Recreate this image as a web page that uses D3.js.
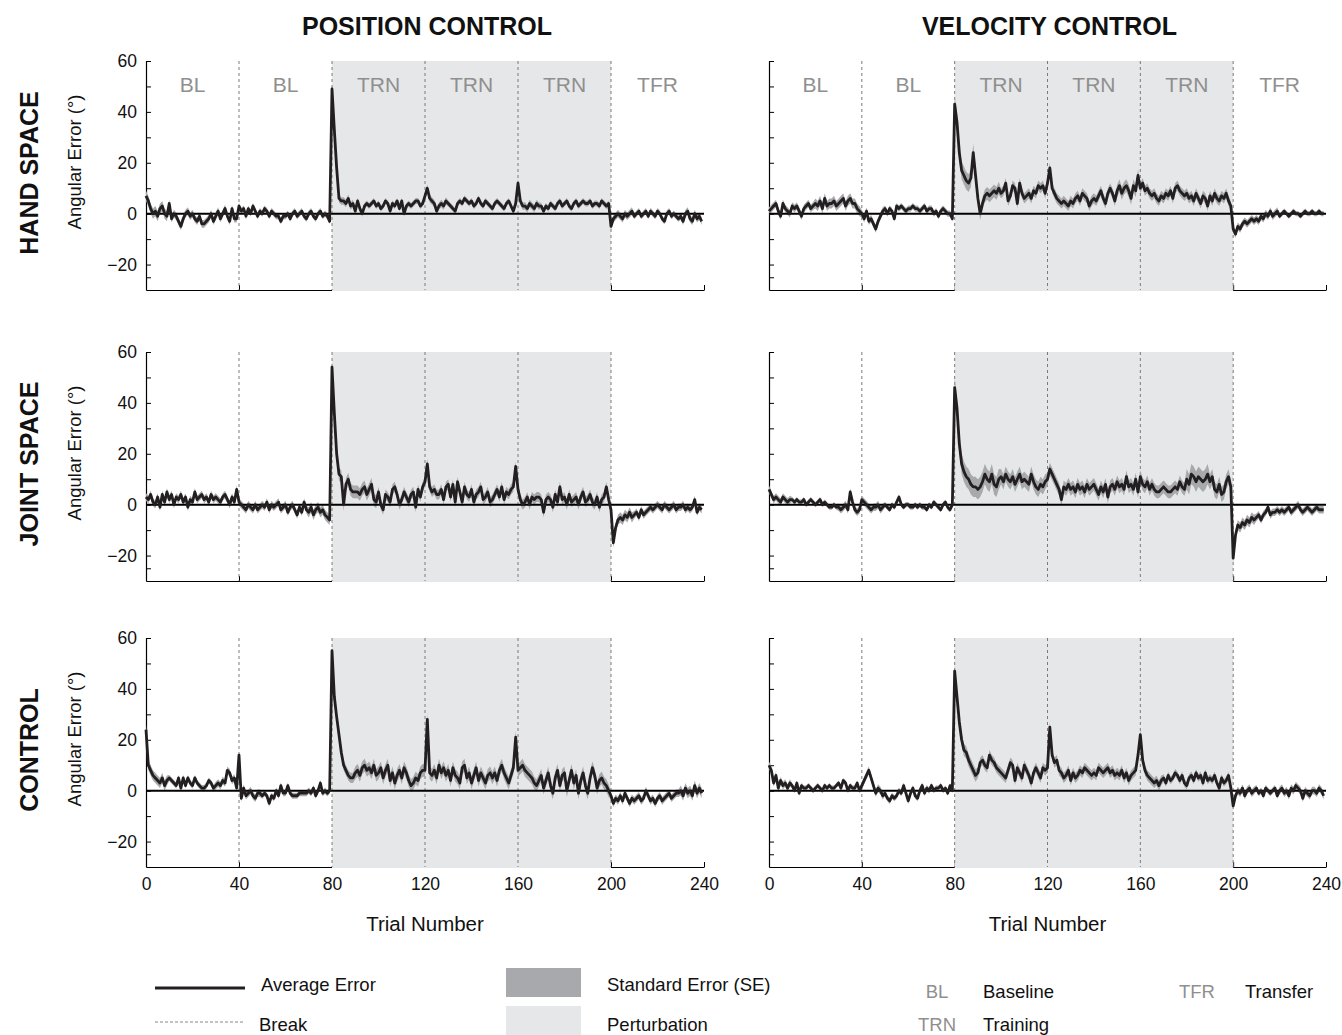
<!DOCTYPE html>
<html>
<head>
<meta charset="utf-8">
<script src="https://cdn.jsdelivr.net/npm/d3@7"></script>
<style>
  body { margin: 0; background: #fff; }
  svg { font-family: "Liberation Sans", Arial, sans-serif; }
</style>
</head>
<body>
<svg id="chart" width="1342" height="1035"></svg>
<script>
// ---- data (mean angular error per trial, degrees) ----
var posHand = [
  7,5,2,0,1,-1,2,3,0,-1, 4,-2,0,-1,-3,-5,-2,0,1,-1, 0,-2,-3,-1,-4,-4,-3,-2,0,-3, -1,1,-2,0,2,-1,-3,2,-2,-2,
  3,1,2,-1,2,0,3,1,-1,1, 0,2,1,-1,1,0,-1,-1,-3,-1, -1,0,-2,0,1,-1,0,1,-1,-2, 0,1,-1,-2,0,1,-1,0,-1,-3,
  49,33,18,6,5,5,4,6,3,4, 1,5,2,0,3,4,3,4,5,3, 4,2,3,5,4,1,4,3,5,2, 5,0,3,4,3,4,5,5,3,4,
  7,10,6,5,4,1,3,4,3,5, 4,3,2,1,4,5,4,6,5,4, 5,3,4,6,4,3,5,4,3,2, 4,5,4,3,2,4,5,3,1,4,
  12,5,3,3,2,4,3,2,4,3, 3,1,3,2,4,3,2,4,5,3, 4,5,3,2,4,5,3,4,5,4, 4,5,3,4,4,3,5,4,3,4,
  -5,-2,-1,0,-1,-2,0,-1,0,1, -1,0,1,-1,0,1,-1,1,0,-1, 1,0,-2,-3,0,1,-1,0,-1,-2, -1,-3,0,1,-2,-3,0,-2,-1,-3
];
var velHand = [
  1,2,3,4,1,-1,4,2,1,0, 3,2,3,1,-1,2,3,4,2,3, 4,3,5,2,6,3,4,4,5,3, 4,5,6,3,5,6,4,4,2,1,
  0,-2,1,-3,-2,-4,-6,-3,-1,1, 2,0,2,1,-2,3,2,3,2,1, 2,2,3,2,2,1,2,3,1,2, 2,0,1,-1,1,2,1,0,0,-2,
  43,36,24,17,15,13,12,14,24,15, 6,0,4,7,8,7,8,9,8,10, 8,9,12,5,7,11,10,4,12,8, 6,7,8,6,9,8,11,10,11,8,
  12,18,10,8,6,5,4,5,4,3, 5,4,6,7,5,8,7,6,3,5, 6,5,7,9,6,4,8,10,8,5, 9,11,8,10,11,9,6,11,9,15,
  10,12,9,10,8,7,8,6,5,7, 6,8,7,9,6,10,11,9,8,7, 8,6,7,5,8,6,4,7,6,3, 7,5,8,6,5,7,6,8,5,3,
  -6,-8,-5,-6,-4,-3,-4,-3,-2,-3, -2,-3,-1,-2,0,-1,1,-1,0,1, -1,0,1,0,-1,0,1,0,0,-1, 0,1,0,0,1,0,0,1,0,0
];
var posJoint = [
  3,2,4,1,0,3,-1,4,1,5, 2,4,0,3,2,4,1,3,-1,2, 1,5,2,3,4,2,3,1,4,2, 3,2,1,3,4,2,0,3,1,6,
  1,0,-1,-2,0,-1,-2,0,-2,-1, 0,-1,1,-2,0,-1,0,1,-2,-1, 0,-3,-1,0,-2,-4,-1,-3,1,-2, -3,-1,-4,-2,-1,-3,-2,-4,-5,-6,
  54,36,20,12,11,0,8,10,6,5, 5,5,4,6,7,4,6,8,2,1, 5,0,-2,4,3,1,6,7,4,0, 2,5,3,1,4,5,-1,6,3,7,
  9,16,7,5,6,4,4,6,2,7, 8,3,8,1,9,5,1,7,4,3, 6,1,4,5,7,2,3,5,1,2, 4,6,3,7,2,5,4,6,7,15,
  6,2,0,1,3,0,3,2,3,3, 2,-3,2,3,2,-1,4,1,7,2, 3,0,4,1,2,3,0,3,5,1, 2,4,1,0,3,-1,2,3,7,2,
  -2,-15,-9,-6,-5,-6,-4,-5,-3,-5, -4,-3,-5,-2,-4,-3,-2,-1,-2,-1, 0,-1,-2,0,-1,-2,-1,0,-2,-1, -1,0,-2,-1,-2,-1,2,-3,-1,-2
];
var velJoint = [
  6,4,2,3,2,1,3,2,1,2, 2,1,2,1,1,2,0,1,2,1, 0,1,2,0,1,0,-1,-1,0,-1, -1,-2,-1,0,-2,5,1,-2,-3,-2,
  2,1,0,-1,-2,-1,-1,0,-2,-1, 0,-1,-2,0,-1,1,3,0,-1,0, 0,-1,-1,0,-1,0,-1,-1,-2,0, -1,1,0,-1,-2,0,1,-1,-2,0,
  46,38,24,16,13,11,10,8,7,7, 6,7,9,12,10,9,12,8,7,10, 11,9,12,10,9,11,8,10,12,9, 10,9,8,12,9,7,6,8,7,9,
  10,14,12,10,8,6,2,7,6,8, 6,7,5,8,6,7,5,8,6,7, 8,6,4,7,5,8,3,7,8,6, 9,7,8,6,11,7,8,6,10,5,
  11,8,7,9,6,8,6,5,5,6, 7,6,5,5,6,7,6,9,7,6, 10,8,12,11,9,11,10,9,10,12, 9,11,6,5,8,4,5,9,11,7,
  -21,-12,-8,-9,-7,-8,-6,-7,-5,-6, -5,-4,-6,-4,-3,-1,-4,-3,-3,-2, -3,-2,-3,-2,-1,-3,-2,-1,0,-2, -3,-2,-1,-2,-3,-2,-1,-2,-2,-2
];
var posCtrl = [
  24,10,8,6,5,4,3,5,2,4, 5,4,3,2,5,1,5,2,5,3, 2,5,3,2,1,1,2,4,3,1, 2,3,2,4,3,8,7,4,5,1,
  14,-3,1,-2,-1,0,-2,-3,-1,-1, -2,-1,-2,-5,-2,-3,0,-2,2,-1, -1,2,-1,-2,-2,-2,-1,-1,-1,-1, 0,-1,1,-2,0,3,-1,0,-1,0,
  55,37,29,22,15,10,8,6,5,5, 7,8,6,9,10,8,9,7,10,6, 7,9,5,8,10,4,7,3,6,8, 5,9,7,4,2,3,5,4,7,8,
  8,28,7,6,8,5,10,7,9,6, 8,4,9,6,5,3,9,10,5,7, 3,6,9,4,7,5,3,6,7,5, 7,4,8,10,7,5,3,6,9,21,
  8,9,10,8,7,6,5,3,2,4, 6,1,4,7,2,-1,5,8,2,6, 7,0,4,8,3,6,-1,4,7,2, -1,5,9,6,1,4,5,3,2,0,
  -2,-5,-3,-4,-2,-4,-1,-3,-5,-3, -4,-3,-2,-4,-3,0,-2,-4,-3,-5, -3,-2,-4,-3,-2,-1,-3,-2,-1,-1, 0,-2,1,-1,0,-2,2,-1,1,-1
];
var velCtrl = [
  10,8,3,6,1,4,2,3,1,3, 2,0,3,-1,2,1,1,2,1,0, 1,2,1,0,2,1,2,1,1,2, 3,1,4,3,0,2,1,1,3,0,
  2,4,6,8,5,2,-1,1,0,-2, -1,-3,-4,-2,-3,-2,0,-1,2,-1, -4,-1,1,-2,-3,0,2,-1,1,0, 2,0,1,1,2,0,1,-1,2,0,
  47,37,27,20,16,15,12,10,8,6, 7,11,12,10,9,14,12,11,9,8, 7,6,5,8,11,10,4,9,7,5, 10,8,6,3,7,9,7,5,9,8,
  9,25,14,11,12,8,7,5,6,8, 4,7,5,6,8,7,9,8,7,6, 7,6,9,8,7,8,9,7,8,6, 7,6,8,5,7,4,6,7,8,14,
  22,12,8,6,5,4,3,4,2,4, 5,3,6,4,5,7,6,4,6,3, 2,5,6,4,7,5,6,3,7,4, 5,4,6,3,1,5,3,4,6,1,
  -6,-2,0,-1,1,-2,0,1,-1,0, 1,-1,0,-2,1,0,-1,0,1,-2, 0,1,-1,0,-2,1,0,2,1,0, -3,0,-1,-2,0,0,-1,1,0,-2
];

// standard error, one value per block of 10 trials
var posHandSE  = [2,1.5,1.5,1.5, 1.2,1.2,1.2,1.2, 1.5,1.2,1.2,1.2, 1.5,1.2,1.2,1.2, 1.5,1.2,1.2,1.2, 1.5,1.2,1.2,1.5];
var velHandSE  = [1.5,1.5,2,2, 1.5,1.2,1.2,1.2, 3.5,2.5,2,2, 2,2,2,2.5, 2,2,2,2, 1.5,1.5,1,1];
var posJointSE = [1.5,1.5,1.5,1.5, 1.5,1.5,1.5,2, 2.5,2.5,2,2, 2,2,2,2, 2,2,2,2, 2,1.5,1.5,1.5];
var velJointSE = [1.5,1,1,1.5, 1.5,1,1,1, 4,4,3,3, 2.5,2.5,2.5,2.5, 2.5,2.5,4,3, 2,1.5,1.5,1.5];
var posCtrlSE  = [2,1.2,1.2,1.5, 1.5,1.2,1.2,1.2, 2,2.5,2.5,2.5, 2.5,2.5,2.5,2.5, 2.5,2.5,2.5,2.5, 1.5,1.5,1.5,2];
var velCtrlSE  = [1.5,1,1,1, 1.5,1.2,1.2,1, 2.5,2,2,2, 2,2,2,2, 2,1.5,1.5,1.5, 1.5,1.2,1.5,1.5];

var columnTitles = ["POSITION CONTROL", "VELOCITY CONTROL"];
var rowTitles = ["HAND SPACE", "JOINT SPACE", "CONTROL"];
var blockStarts = [0, 40, 80, 120, 160, 200];
var blockNames = ["BL", "BL", "TRN", "TRN", "TRN", "TFR"];
var breakTrials = [40, 80, 120, 160, 200];
var perturbation = [80, 200];
var xTicks = [0, 40, 80, 120, 160, 200, 240];
var yTicks = [60, 50, 40, 30, 20, 10, 0, -10, -20, -25];
var yLabels = [60, 40, 20, 0, -20];

var panels = [
  [posHand, posHandSE, velHand, velHandSE],
  [posJoint, posJointSE, velJoint, velJointSE],
  [posCtrl, posCtrlSE, velCtrl, velCtrlSE]
];

var svg = d3.select("#chart");

var lineColor = "#231f20";
var seColor = "#a7a9ac";
var shadeColor = "#e6e7e8";
var labelGrey = "#8f8f8f";

var colLeft = [146, 769];
var colRight = [704, 1326];
var rowTop = [61, 352, 638];
var panelH = 229;

var fmt = d3.format("d");

function drawPanel(row, col, mean, se) {
  var x = d3.scaleLinear().domain([0, 240]).range([colLeft[col], colRight[col]]);
  var y = d3.scaleLinear().domain([-30, 60]).range([rowTop[row] + panelH, rowTop[row]]);
  var g = svg.append("g");

  // y axis, ticks pointing inward
  var yAxis = d3.axisLeft(y)
    .tickValues(yTicks)
    .tickSize(-5)
    .tickSizeOuter(0)
    .tickPadding(9)
    .tickFormat(function (d) {
      return (col === 0 && yLabels.indexOf(d) >= 0) ? fmt(d) : "";
    });
  var ya = g.append("g").attr("transform", "translate(" + colLeft[col] + ",0)").call(yAxis);
  ya.select(".domain").attr("stroke", "#000").attr("stroke-width", 1.2);
  ya.selectAll(".tick line").attr("stroke", "#000");
  ya.selectAll("text").attr("font-size", 17.5).attr("fill", "#111");

  // x axis
  var xAxis = d3.axisBottom(x)
    .tickValues(xTicks)
    .tickSize(-5)
    .tickSizeOuter(0)
    .tickPadding(11)
    .tickFormat(function (d) { return row === 2 ? d : ""; });
  var xa = g.append("g").attr("transform", "translate(0," + (rowTop[row] + panelH) + ")").call(xAxis);
  xa.select(".domain").attr("stroke", "#000").attr("stroke-width", 1.2);
  xa.selectAll(".tick line").attr("stroke", "#000");
  xa.selectAll("text").attr("font-size", 17.5).attr("fill", "#111");

  // perturbation shading (hides axis baseline underneath, as in the figure)
  g.append("rect")
    .attr("x", x(perturbation[0]))
    .attr("y", y(60))
    .attr("width", x(perturbation[1]) - x(perturbation[0]))
    .attr("height", y(-30) - y(60) + 1)
    .attr("fill", shadeColor);

  // break lines
  g.selectAll(".brk").data(breakTrials).enter().append("line")
    .attr("x1", function (d) { return x(d); })
    .attr("x2", function (d) { return x(d); })
    .attr("y1", y(60))
    .attr("y2", y(-30))
    .attr("stroke", "#7a7a7a")
    .attr("stroke-width", 1)
    .attr("stroke-dasharray", "3,3");

  // block labels, top row only
  if (row === 0) {
    g.selectAll(".blk").data(blockStarts).enter().append("text")
      .attr("x", function (d) { return x(d + 20); })
      .attr("y", y(60) + 31)
      .attr("text-anchor", "middle")
      .attr("font-size", 21)
      .attr("fill", labelGrey)
      .text(function (d, i) { return blockNames[i]; });
  }

  var idx = d3.range(mean.length);

  // standard error band
  var area = d3.area()
    .x(function (i) { return x(i); })
    .y0(function (i) { return y(mean[i] - se[Math.floor(i / 10)]); })
    .y1(function (i) { return y(mean[i] + se[Math.floor(i / 10)]); });
  g.append("path").datum(idx).attr("d", area).attr("fill", seColor);

  // zero line
  g.append("line")
    .attr("x1", x(0)).attr("x2", x(240))
    .attr("y1", y(0)).attr("y2", y(0))
    .attr("stroke", "#000").attr("stroke-width", 2);

  // mean line
  var line = d3.line()
    .x(function (i) { return x(i); })
    .y(function (i) { return y(mean[i]); });
  g.append("path").datum(idx).attr("d", line)
    .attr("fill", "none")
    .attr("stroke", lineColor)
    .attr("stroke-width", 2.8)
    .attr("stroke-linejoin", "round");

  // y axis label on left column
  if (col === 0) {
    g.append("text")
      .attr("transform", "translate(81," + (rowTop[row] + 101) + ") rotate(-90)")
      .attr("text-anchor", "middle")
      .attr("font-size", 18.5)
      .attr("fill", "#111")
      .text("Angular Error (\u00b0)");
  }

  if (row === 2) {
    g.append("text")
      .attr("x", (colLeft[col] + colRight[col]) / 2)
      .attr("y", 931)
      .attr("text-anchor", "middle")
      .attr("font-size", 20.5)
      .attr("fill", "#111")
      .text("Trial Number");
  }
}

for (var r = 0; r < 3; r++) {
  drawPanel(r, 0, panels[r][0], panels[r][1]);
  drawPanel(r, 1, panels[r][2], panels[r][3]);
}

// column titles
svg.selectAll(".ctitle").data(columnTitles).enter().append("text")
  .attr("x", function (d, i) { return (colLeft[i] + colRight[i]) / 2 + 2; })
  .attr("y", 35)
  .attr("text-anchor", "middle")
  .attr("font-size", 25)
  .attr("font-weight", "bold")
  .attr("fill", "#111")
  .text(function (d) { return d; });

// row titles
svg.selectAll(".rtitle").data(rowTitles).enter().append("text")
  .attr("transform", function (d, i) { return "translate(38," + (rowTop[i] + 112) + ") rotate(-90)"; })
  .attr("text-anchor", "middle")
  .attr("font-size", 25)
  .attr("font-weight", "bold")
  .attr("fill", "#111")
  .text(function (d) { return d; });

// legend
var leg = svg.append("g").attr("font-size", 18.5).attr("fill", "#111");
leg.append("line").attr("x1", 155).attr("x2", 245).attr("y1", 988).attr("y2", 988)
  .attr("stroke", lineColor).attr("stroke-width", 3.2);
leg.append("text").attr("x", 261).attr("y", 991).text("Average Error");
leg.append("line").attr("x1", 155).attr("x2", 245).attr("y1", 1022).attr("y2", 1022)
  .attr("stroke", "#888").attr("stroke-width", 1).attr("stroke-dasharray", "3,2");
leg.append("text").attr("x", 259).attr("y", 1031).text("Break");

leg.append("rect").attr("x", 506).attr("y", 968).attr("width", 75).attr("height", 29).attr("fill", seColor);
leg.append("text").attr("x", 607).attr("y", 991).text("Standard Error (SE)");
leg.append("rect").attr("x", 506).attr("y", 1006).attr("width", 75).attr("height", 29).attr("fill", shadeColor);
leg.append("text").attr("x", 607).attr("y", 1031).text("Perturbation");

var legendBlocks = [["BL", "Baseline", 937, 983, 998], ["TRN", "Training", 937, 983, 1031], ["TFR", "Transfer", 1197, 1245, 998]];
legendBlocks.forEach(function (b) {
  leg.append("text").attr("x", b[2]).attr("y", b[4]).attr("text-anchor", "middle").attr("fill", labelGrey).text(b[0]);
  leg.append("text").attr("x", b[3]).attr("y", b[4]).text(b[1]);
});
</script>
</body>
</html>
